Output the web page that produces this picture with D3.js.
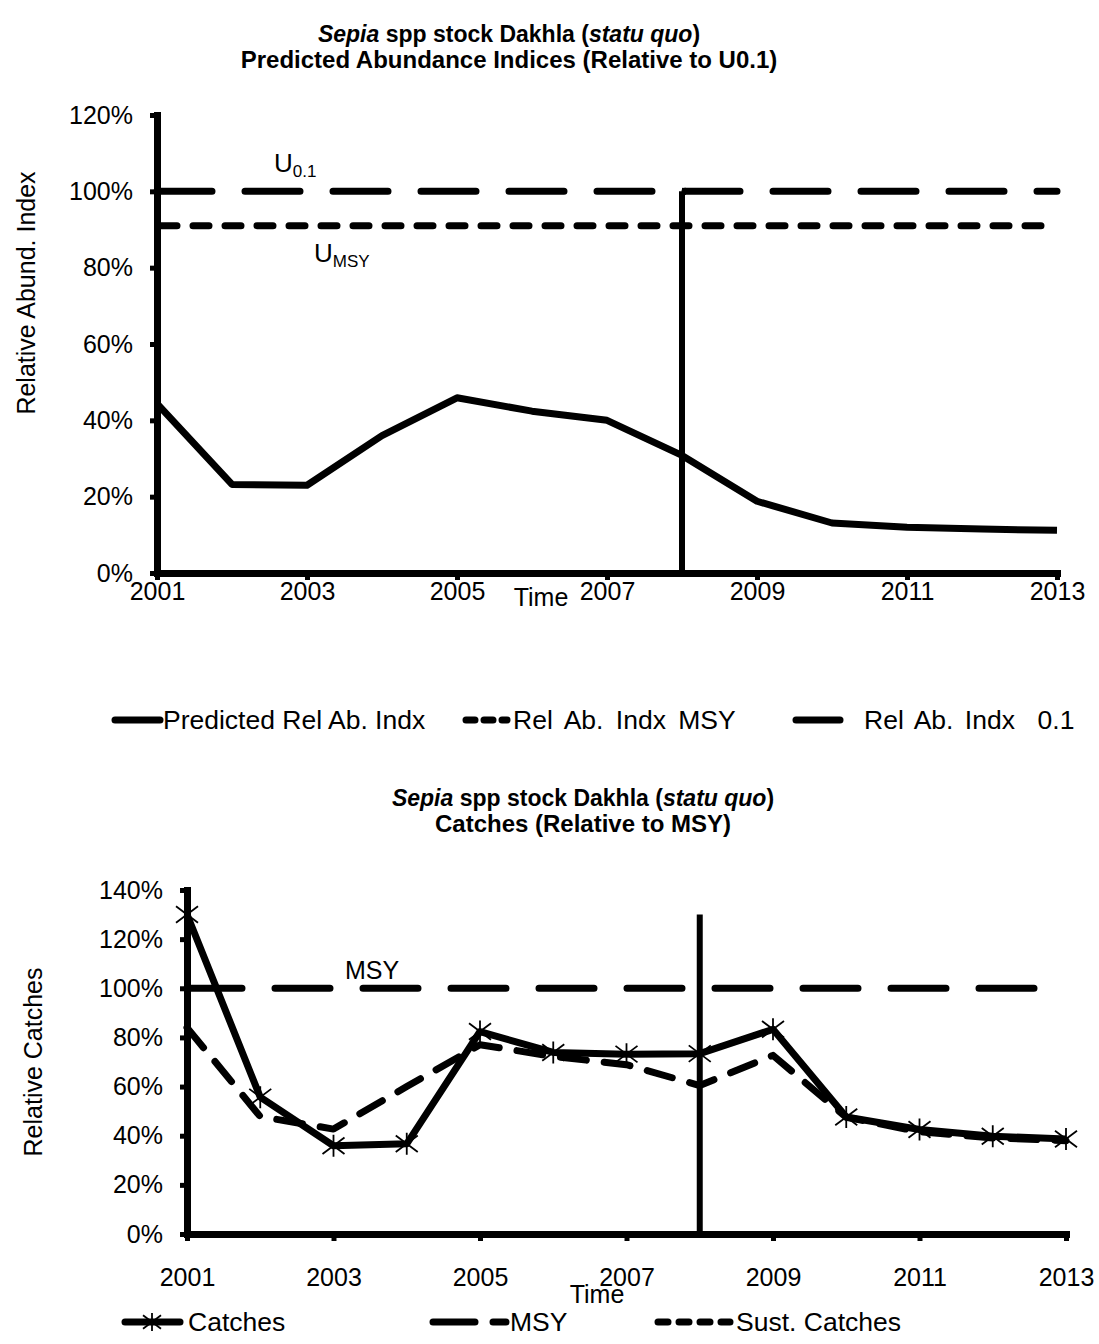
<!DOCTYPE html>
<html><head><meta charset="utf-8">
<script src="https://cdn.jsdelivr.net/npm/d3@7"></script>
<style>
body{margin:0;background:#fff;}
text{font-family:"Liberation Sans",Arial,sans-serif;fill:#000;}
</style></head>
<body>
<svg id="c" width="1099" height="1344"></svg>
<script>
const years = [2001,2002,2003,2004,2005,2006,2007,2008,2009,2010,2011,2012,2013];
const xTicks = [2001,2003,2005,2007,2009,2011,2013];
const predictedRelAb = [44.4,23.2,23.0,36.0,45.9,42.4,40.0,30.8,18.8,13.1,12.0,11.5,11.2];
const relAbMSY = [91,91,91,91,91,91,91,91,91,91,91,91,91];
const relAb01 = [100,100,100,100,100,100,100,100,100,100,100,100,100];
const topYTicks = [0,20,40,60,80,100,120];
const catches = [130,55.7,35.9,36.7,82.4,73.9,73.2,73.4,83.3,47.6,42.5,39.8,38.7];
const msy = [100,100,100,100,100,100,100,100,100,100,100,100,100];
const sustCatches = [84,47.8,42.7,60,77,72.3,68.9,60.4,72.7,47.5,41.6,39.1,38];
const botYTicks = [0,20,40,60,80,100,120,140];
const projYear = 2008;
const topVLine = [0,100];
const botVLine = [0,130];

const svg = d3.select("#c");
const pct = d => d + "%";
const FS = 25;
const LFS = 26.5;

function axes(g, x, y, yTicks, opts){
  const ya = d3.axisLeft(y).tickValues(yTicks).tickFormat(pct).tickSizeInner(7).tickSizeOuter(0).tickPadding(17);
  const gy = g.append("g").attr("transform",`translate(${x.range()[0]},0)`).call(ya);
  gy.select(".domain").attr("stroke","#000").attr("stroke-width",7).attr("stroke-linecap","square");
  gy.selectAll(".tick line").attr("stroke","#000").attr("stroke-width",5);
  gy.selectAll(".tick text").attr("font-size",FS).attr("font-family","Liberation Sans, Arial");
  const xa = d3.axisBottom(x).tickValues(xTicks).tickFormat(d3.format("d")).tickSizeInner(7).tickSizeOuter(0).tickPadding(opts.xpad);
  const gx = g.append("g").attr("transform",`translate(0,${y.range()[0]})`).call(xa);
  gx.select(".domain").attr("stroke","#000").attr("stroke-width",7).attr("stroke-linecap","square");
  gx.selectAll(".tick line").attr("stroke","#000").attr("stroke-width",5);
  gx.selectAll(".tick text").attr("font-size",FS).attr("font-family","Liberation Sans, Arial");
}

function star(g, cx, cy, r){
  const p = d3.path();
  p.moveTo(cx-r, cy-r*0.75); p.lineTo(cx+r, cy+r*0.75);
  p.moveTo(cx-r, cy+r*0.75); p.lineTo(cx+r, cy-r*0.75);
  p.moveTo(cx, cy-r); p.lineTo(cx, cy+r);
  g.append("path").attr("d",p.toString()).attr("stroke","#000").attr("stroke-width",1.8).attr("fill","none");
}

function title(cx, y1, line2){
  const t = svg.append("text").attr("x",cx).attr("y",y1).attr("text-anchor","middle").attr("font-size",23).attr("font-weight","bold");
  t.append("tspan").attr("font-style","italic").text("Sepia");
  t.append("tspan").text(" spp stock Dakhla (");
  t.append("tspan").attr("font-style","italic").text("statu quo");
  t.append("tspan").text(")");
  svg.append("text").attr("x",cx).attr("y",y1+26).attr("text-anchor","middle").attr("font-size",24).attr("font-weight","bold").text(line2);
}

// ---------- TOP CHART ----------
const x1 = d3.scaleLinear().domain([2001,2013]).range([157,1057]);
const y1 = d3.scaleLinear().domain([0,120]).range([573,115]);
title(509, 42, "Predicted Abundance Indices (Relative to U0.1)");
const g1 = svg.append("g");
const line1 = d3.line().x((d,i)=>x1(years[i])).y(d=>y1(d));

g1.append("path").datum(relAb01).attr("d",line1).attr("fill","none").attr("stroke","#000")
  .attr("stroke-width",7).attr("stroke-dasharray","55,33").attr("stroke-linecap","round");
g1.append("path").datum(relAbMSY).attr("d",line1).attr("fill","none").attr("stroke","#000")
  .attr("stroke-width",7).attr("stroke-dasharray","16,16").attr("stroke-dashoffset",-4).attr("stroke-linecap","round");
g1.append("line").attr("x1",x1(projYear)).attr("x2",x1(projYear)).attr("y1",y1(topVLine[0])).attr("y2",y1(topVLine[1]))
  .attr("stroke","#000").attr("stroke-width",6);
g1.append("line").attr("x1",x1(projYear)).attr("x2",x1(projYear)+4).attr("y1",y1(topVLine[1])).attr("y2",y1(topVLine[1]))
  .attr("stroke","#000").attr("stroke-width",7);
g1.append("path").datum(predictedRelAb).attr("d",line1).attr("fill","none").attr("stroke","#000")
  .attr("stroke-width",7).attr("stroke-linejoin","round");
axes(g1, x1, y1, topYTicks, {xpad:2});

// annotations
const u01 = svg.append("text").attr("x",274).attr("y",172).attr("font-size",26);
u01.append("tspan").text("U");
u01.append("tspan").attr("font-size",17).attr("dy",5).text("0.1");
const umsy = svg.append("text").attr("x",314).attr("y",262).attr("font-size",26);
umsy.append("tspan").text("U");
umsy.append("tspan").attr("font-size",17).attr("dy",5).text("MSY");

svg.append("text").attr("transform","translate(35,293) rotate(-90)").attr("text-anchor","middle").attr("font-size",FS).text("Relative Abund. Index");
svg.append("text").attr("x",541).attr("y",606).attr("text-anchor","middle").attr("font-size",FS).text("Time");

// top legend
const ly = 720;
svg.append("line").attr("x1",115).attr("x2",160).attr("y1",ly).attr("y2",ly).attr("stroke","#000").attr("stroke-width",7).attr("stroke-linecap","round");
svg.append("text").attr("x",163).attr("y",ly+9).attr("font-size",LFS).text("Predicted Rel Ab. Indx");
svg.append("line").attr("x1",466).attr("x2",507).attr("y1",ly).attr("y2",ly).attr("stroke","#000").attr("stroke-width",7).attr("stroke-linecap","round").attr("stroke-dasharray","9,9");
svg.append("text").attr("x",513).attr("y",ly+9).attr("font-size",LFS).attr("word-spacing",5).text("Rel Ab. Indx MSY");
svg.append("line").attr("x1",796).attr("x2",840).attr("y1",ly).attr("y2",ly).attr("stroke","#000").attr("stroke-width",7).attr("stroke-linecap","round");
svg.append("text").attr("x",864).attr("y",ly+9).attr("font-size",LFS).attr("word-spacing",4).attr("xml:space","preserve").text("Rel Ab. Indx  0.1");

// ---------- BOTTOM CHART ----------
const x2 = d3.scaleLinear().domain([2001,2013]).range([187,1066]);
const y2 = d3.scaleLinear().domain([0,140]).range([1234,890]);
title(583, 806, "Catches (Relative to MSY)");
const g2 = svg.append("g");
const line2 = d3.line().x((d,i)=>x2(years[i])).y(d=>y2(d));

g2.append("path").datum(msy).attr("d",line2).attr("fill","none").attr("stroke","#000")
  .attr("stroke-width",7).attr("stroke-dasharray","55,33").attr("stroke-linecap","round");
g2.append("line").attr("x1",x2(projYear)).attr("x2",x2(projYear)).attr("y1",y2(botVLine[0])).attr("y2",y2(botVLine[1]))
  .attr("stroke","#000").attr("stroke-width",6);
g2.append("path").datum(sustCatches).attr("d",line2).attr("fill","none").attr("stroke","#000")
  .attr("stroke-width",7).attr("stroke-dasharray","26,18").attr("stroke-linecap","round").attr("stroke-linejoin","round");
g2.append("path").datum(catches).attr("d",line2).attr("fill","none").attr("stroke","#000")
  .attr("stroke-width",7).attr("stroke-linejoin","round");
catches.forEach((d,i)=>star(g2, x2(years[i]), y2(d), 11));
axes(g2, x2, y2, botYTicks, {xpad:27});

svg.append("text").attr("x",345).attr("y",979).attr("font-size",FS).text("MSY");
svg.append("text").attr("transform","translate(42,1062) rotate(-90)").attr("text-anchor","middle").attr("font-size",FS).text("Relative Catches");
svg.append("text").attr("x",597).attr("y",1303).attr("text-anchor","middle").attr("font-size",FS).text("Time");

// bottom legend
const by = 1322;
svg.append("line").attr("x1",125).attr("x2",180).attr("y1",by).attr("y2",by).attr("stroke","#000").attr("stroke-width",7).attr("stroke-linecap","round");
star(svg, 152, by, 9);
svg.append("text").attr("x",188).attr("y",by+9).attr("font-size",LFS).text("Catches");
svg.append("line").attr("x1",433).attr("x2",506).attr("y1",by).attr("y2",by).attr("stroke","#000").attr("stroke-width",7).attr("stroke-linecap","round").attr("stroke-dasharray","42,18");
svg.append("text").attr("x",510).attr("y",by+9).attr("font-size",LFS).text("MSY");
svg.append("line").attr("x1",658).attr("x2",730).attr("y1",by).attr("y2",by).attr("stroke","#000").attr("stroke-width",7).attr("stroke-linecap","round").attr("stroke-dasharray","10,11");
svg.append("text").attr("x",736).attr("y",by+9).attr("font-size",LFS).text("Sust. Catches");
</script>
</body></html>
